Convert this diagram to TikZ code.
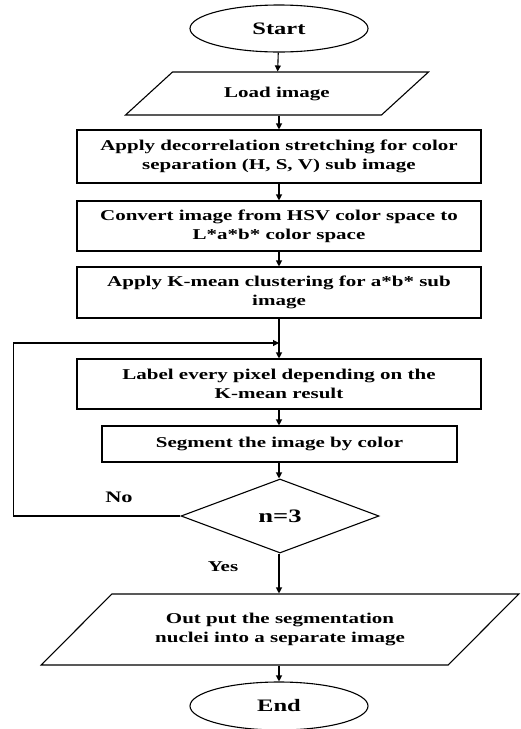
\documentclass[tikz,border=0pt]{standalone}
\usepackage{fontspec}
\setmainfont{Liberation Serif}[FakeStretch=1.4]
\usetikzlibrary{shapes.geometric,arrows.meta}

\begin{document}
\begin{tikzpicture}[x=1pt,y=-1pt,line width=1.1pt,
    txt/.style={font=\fontsize{15}{19}\selectfont\bfseries},
    term/.style={draw,ellipse,minimum width=178pt,minimum height=47pt,inner sep=0pt,
        font=\fontsize{17.5}{20}\selectfont\bfseries},
    io/.style={draw,trapezium,trapezium stretches=true,inner sep=0pt,txt,align=center},
    proc/.style={draw,rectangle,minimum width=404pt,minimum height=50pt,inner sep=0pt,txt,align=center},
    arr/.style={-{Triangle[length=6pt,width=6pt]}}]
    \useasboundingbox (0,0) rectangle (521,729);

    % Start
    \node[term] (start) at (279,28.5) {Start};

    % Load image
    \node[io,trapezium left angle=30,trapezium right angle=150,
        minimum width=303pt,minimum height=43pt] (load) at (277,93.5) {Load image};

    % Processing steps
    \node[proc,minimum height=53pt] (decor) at (279,156.5)
        {Apply decorrelation stretching for color\\separation (H, S, V) sub image};
    \node[proc] (conv) at (279,226)
        {Convert image from HSV color space to\\L*a*b* color space};
    \node[proc,minimum height=51pt] (kmean) at (279,292.5)
        {Apply K-mean clustering for a*b* sub\\image};
    \coordinate (join) at (279,343);
    \node[proc] (label) at (279,384)
        {Label every pixel depending on the\\K-mean result};
    \node[proc,minimum width=355pt,minimum height=36pt] (seg) at (279.5,444)
        {Segment the image by color};

    % Decision
    \node[draw,diamond,minimum width=198pt,minimum height=74pt,inner sep=0pt,
        font=\fontsize{19}{22}\selectfont\bfseries] (check) at (280,516) {n=3};
    \node[font=\fontsize{16}{19}\selectfont\bfseries] (no) at (119,497) {No};
    \node[font=\fontsize{15}{19}\selectfont\bfseries] (yes) at (223,567) {Yes};

    % Output
    \node[io,trapezium left angle=32,trapezium right angle=148,
        minimum width=480pt,minimum height=71pt] (out) at (280,629.5)
        {Out put the segmentation\\nuclei into a separate image};

    % End
    \node[term,minimum height=48pt] (end) at (279,706) {End};

    % Arrows
    \draw[arr] (start) -- (load);
    \draw[arr] (load.south -| decor.north) -- (decor);
    \draw[arr] (decor) -- (conv);
    \draw[arr] (conv) -- (kmean);
    \draw[arr] (kmean) -- (label);
    \draw[arr] (label) -- (seg.north -| label.south);
    \draw[arr] (seg.south -| label.south) -- (check.north -| label.south);
    \draw[arr] (check.south -| label.south) -- (out.north -| label.south);
    \draw[arr] (out.south -| label.south) -- (end);
    \draw[arr] (check.west) -- ++(-167,0) |- (join);
\end{tikzpicture}
\end{document}
